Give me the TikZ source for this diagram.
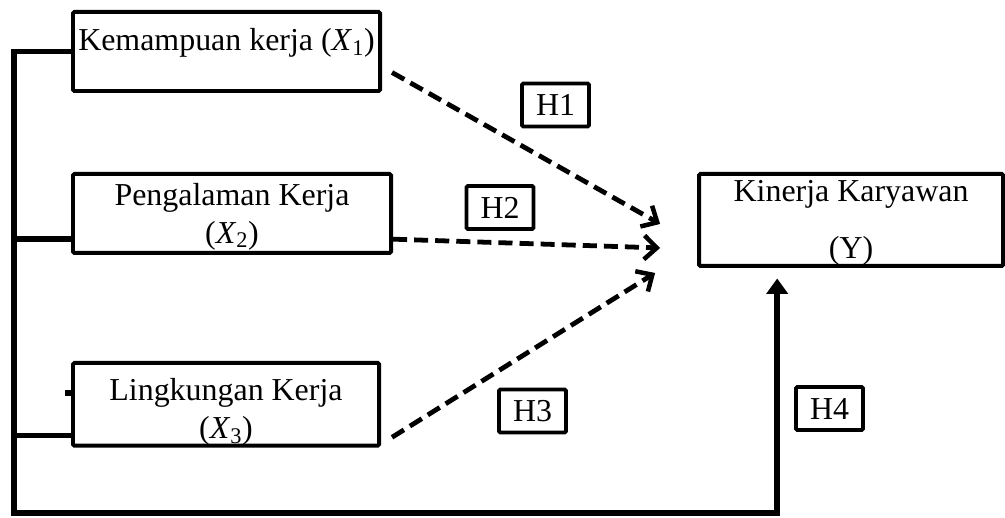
\documentclass[tikz,border=0pt]{standalone}
\usepackage{fontspec}
\setmainfont{Liberation Serif}
\usetikzlibrary{arrows.meta, calc, positioning}
\tikzset{%
  block/.style={%
    rectangle,
    line width=2.8pt,
    draw=black,
    rounded corners=1pt,
    font={\fontsize{22.7}{27}\selectfont},
    align=center,
    inner sep=0pt%
  },
  hyp/.style={%
    block,
    minimum width=1.675cm,
    minimum height=1.075cm%
  },
  signal/.style={%
    color=black,
    line width=4.2pt%
  },
  link/.style={%
    color=black,
    line width=3.4pt,
    dash pattern=on 10pt off 5pt,
    -{Straight Barb[length=9pt, width=17pt, line width=3.2pt]}%
  },
  arrow/.style={-{Triangle[length=11pt, width=15pt]}}
}
\begin{document}
\begin{tikzpicture}[x=0.025cm, y=0.025cm]
    \useasboundingbox (0,0) rectangle (1005,518);

    \node [block, minimum width=7.675cm, minimum height=1.975cm, anchor=north west]
      (X1) at (71,508) {Kemampuan kerja (\textit{X}\textsubscript{1})\\[-10pt]\mbox{}};
    \node [block, minimum width=7.95cm, minimum height=1.975cm,
      below=1.975cm of X1.south west, anchor=north west]
      (X2) {\rule{0pt}{20pt}Pengalaman Kerja\\(\textit{X}\textsubscript{2})};
    \node [block, minimum width=7.65cm, minimum height=2.05cm,
      below=2.65cm of X2.south west, anchor=north west]
      (X3) {\rule{0pt}{27pt}Lingkungan Kerja\\(\textit{X}\textsubscript{3})};
    \node [block, minimum width=7.6cm, minimum height=2.3cm,
      right=7.6cm of X2.north east, anchor=north west]
      (Y) {\rule{0pt}{19pt}Kinerja Karyawan\\[13pt](Y)};

    \node [hyp] (H1) at (555.5,413) {H1};
    \node [hyp] (H2) at (500,310.5) {H2};
    \node [hyp] (H3) at (532.5,107) {H3};
    \node [hyp] (H4) at (829.5,109.5) {H4};

    \coordinate (Corner) at (14,5);
    \coordinate (B2) at ($(X2.south west)!0.19!(X2.north west)$);
    \coordinate (B3) at ($(X3.south west)!0.14!(X3.north west)$);
    \coordinate (Tip) at ($(Y.south west)!0.26!(Y.south east)$);
    \coordinate (Meet) at ($(Y.west)+(-37,0)$);

    \draw [arrow, signal, shorten >=7.5pt]
      (X1.west) -| (Corner) -| (Tip);
    \draw [signal]
      (B2) -- (B2 -| Corner);
    \draw [signal]
      (B3) -- (B3 -| Corner);
    \draw [signal]
      ($(X3.west)+(0,11)$) -- +(-6,0);

    \draw [link]
      ($(X1.east)+(10,-21)$) -- ($(Meet)+(0,-4)$);
    \draw [link]
      ($(X2.south east)!0.19!(X2.north east)$) -- ($(Meet)+(0,-28)$);
    \draw [link]
      ($(X3.east)+(11,-33)$) -- ($(Meet)+(-5,-53)$);
\end{tikzpicture}
\end{document}
